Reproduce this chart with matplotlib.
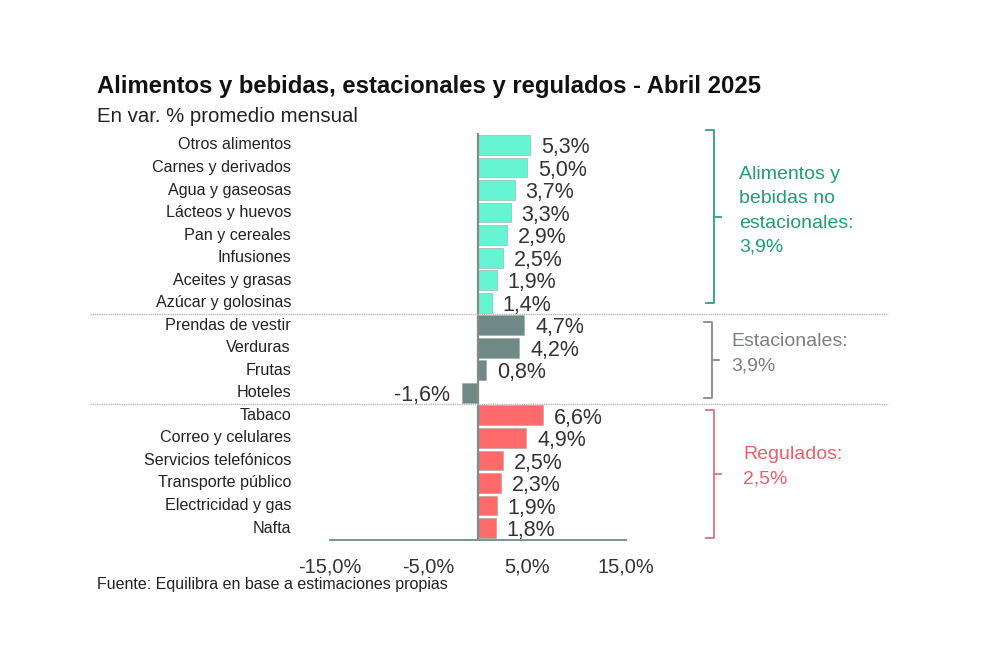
import matplotlib
matplotlib.use("Agg")
import matplotlib.pyplot as plt
from matplotlib.transforms import blended_transform_factory
from matplotlib.lines import Line2D

plt.rcParams['font.family'] = ['Liberation Sans', 'DejaVu Sans']

categories = ["Otros alimentos", "Carnes y derivados", "Agua y gaseosas", "Lácteos y huevos",
              "Pan y cereales", "Infusiones", "Aceites y grasas", "Azúcar y golosinas",
              "Prendas de vestir", "Verduras", "Frutas", "Hoteles",
              "Tabaco", "Correo y celulares", "Servicios telefónicos", "Transporte público",
              "Electricidad y gas", "Nafta"]
values = [5.3, 5.0, 3.7, 3.3, 2.9, 2.5, 1.9, 1.4,
          4.7, 4.2, 0.8, -1.6,
          6.6, 4.9, 2.5, 2.3, 1.9, 1.8]
groups = ["nes"] * 8 + ["est"] * 4 + ["reg"] * 6
group_names = ["nes", "est", "reg"]
group_labels = ["Alimentos y\nbebidas no\nestacionales:\n3,9%", "Estacionales:\n3,9%", "Regulados:\n2,5%"]
xticks = [-15, -5, 5, 15]
xtick_labels = ["-15,0%", "-5,0%", "5,0%", "15,0%"]

bar_colors = {"nes": "#66F5D3", "est": "#6F8A86", "reg": "#FF6B6B"}
text_colors = {"nes": "#1E9E72", "est": "#7A7F80", "reg": "#EC5F69"}
brack_colors = {"nes": "#2AA37E", "est": "#8A8A8A", "reg": "#E07080"}

W, H = 992, 661
fig = plt.figure(figsize=(W / 100, H / 100), dpi=100)
ax = fig.add_axes([330 / W, 1 - 540.4 / H, 296 / W, (540.4 - 132.6) / H])

y = list(range(len(categories)))
ax.barh(y, values, height=0.88, color=[bar_colors[g] for g in groups],
        edgecolor="#9aa8a4", linewidth=0.4, zorder=2)
ax.set_xlim(-15, 15)
ax.set_ylim(17.55, -0.55)
ax.axvline(0, color="#7d8d89", lw=1.6, zorder=3)

for s in ["top", "right", "left"]:
    ax.spines[s].set_visible(False)
ax.spines["bottom"].set_color("#6b8f84")
ax.spines["bottom"].set_linewidth(1.3)
ax.set_yticks([])
ax.set_xticks(xticks)
ax.set_xticklabels(xtick_labels, fontsize=14.4, color="#333333")
ax.tick_params(axis="x", length=0, pad=12)

xpx = 1 / 9.87  # data units per pixel
for i, (v, c) in enumerate(zip(values, categories)):
    lab = f"{v:.1f}%".replace(".", ",")
    if v >= 0:
        ax.text(v + 11 * xpx, i + 0.12, lab, ha="left", va="center",
                fontsize=15.5, color="#333333")
    else:
        ax.text(v - 12 * xpx, i + 0.12, lab, ha="right", va="center",
                fontsize=15.5, color="#333333")
    ax.text(-15 - 39 * xpx, i, c, ha="right", va="center", fontsize=11.6, color="#222222")

# separator lines
tr = blended_transform_factory(fig.transFigure, ax.transData)
for yy in [7.5, 11.5]:
    fig.add_artist(Line2D([90 / W, 888 / W], [yy, yy], transform=tr, color="#bbbbbb",
                          lw=1.0, ls=(0, (1, 0.6))))

# brackets
def fy(p):
    return 1 - p / H

brackets = [(130, 303, 714, "nes"), (322, 398, 712, "est"), (410, 538, 714, "reg")]
for (top, bot, xv, g) in brackets:
    col = brack_colors[g]
    mid = (top + bot) / 2
    xs = [(xv - 8) / W, xv / W, xv / W, (xv - 8) / W]
    ys = [fy(top), fy(top), fy(bot), fy(bot)]
    fig.add_artist(Line2D(xs, ys, color=col, lw=1.3))
    fig.add_artist(Line2D([xv / W, (xv + 7) / W], [fy(mid), fy(mid)], color=col, lw=1.3))

txt_pos = {"nes": (739, 166), "est": (731, 333), "reg": (743, 446)}
for g, lab in zip(group_names, group_labels):
    xg, yg = txt_pos[g]
    fig.text(xg / W, fy(yg), lab, ha="left", va="top", fontsize=14, color=text_colors[g],
             linespacing=1.56)

fig.text(97 / W, fy(86.5), "Alimentos y bebidas, estacionales y regulados - Abril 2025",
         ha="left", va="center", fontsize=17.2, fontweight="bold", color="#111111")
fig.text(97 / W, fy(116), "En var. % promedio mensual", ha="left", va="center",
         fontsize=14.7, color="#222222")
fig.text(97 / W, fy(585), "Fuente: Equilibra en base a estimaciones propias", ha="left",
         va="center", fontsize=11.5, color="#222222")

fig.savefig("out.png", dpi=100, facecolor="white")
